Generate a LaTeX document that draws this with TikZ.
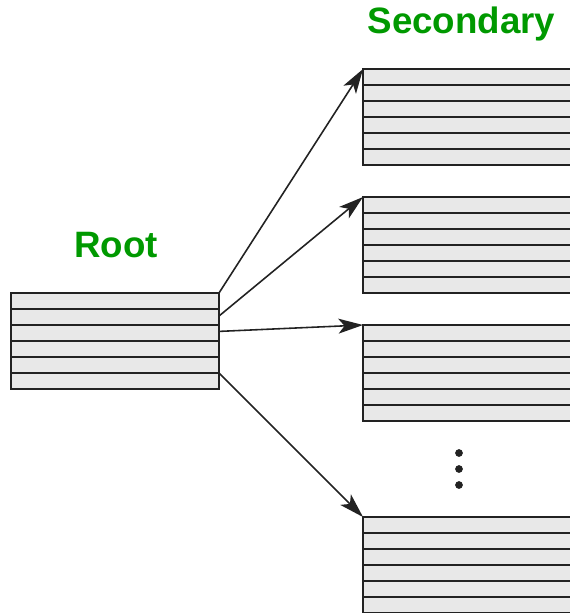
\documentclass[tikz,border=0pt]{standalone}
\usepackage{fontspec}
\setsansfont{Liberation Sans}
\usetikzlibrary{arrows.meta, calc}
\tikzset{>={Stealth[length=14pt, width=8.5pt, inset=3.5pt]}}
\definecolor{tblfill}{HTML}{E8E8E8}
\definecolor{tblline}{HTML}{222222}
\definecolor{lblgreen}{HTML}{009900}
\tikzset{
    tbl/.style={draw=tblline, fill=tblfill, line width=1pt, outer sep=0pt, minimum height=1.92cm},
    lbl/.style={text=lblgreen, font=\sffamily\bfseries\fontsize{20.9}{24}\selectfont, anchor=base},
}

\begin{document}
\begin{tikzpicture}[x=.02cm, y=-.02cm]
    \useasboundingbox(0, 0)rectangle(570, 613);
    \clip(0, 0)rectangle(570, 613);
    \node[lbl](rootlbl)at(116, 257){Root};
    \node[lbl](seclbl)at(461.5, 33){Secondary};
    \node[tbl, minimum width=4.16cm](root)at(115, 341){};
    \foreach \n/\y in {s1/117, s2/245, s3/373, s4/565}
        \node[tbl, minimum width=4.2cm](\n)at(468, \y){};
    \foreach \t in {root, s1, s2, s3, s4}
        \foreach \k in {1, ..., 5}
            \draw[draw=tblline, line width=1pt]($(\t.north west)!\k/6!(\t.south west)$)--($(\t.north east)!\k/6!(\t.south east)$);
    \draw[->, draw=tblline, line width=.9pt](root.north east)--(s1.north west);
    \draw[->, draw=tblline, line width=.9pt]($(root.north east)!.24!(root.south east)$)--(s2.north west);
    \draw[->, draw=tblline, line width=.9pt]($(root.north east)!.4!(root.south east)$)--(s3.north west);
    \draw[->, draw=tblline, line width=.9pt]($(root.north east)!5/6!(root.south east)$)--(s4.north west);
    \foreach \y in {453, 469, 485}
        \fill[tblline](459, \y)circle(2.2pt);
\end{tikzpicture}
\end{document}
